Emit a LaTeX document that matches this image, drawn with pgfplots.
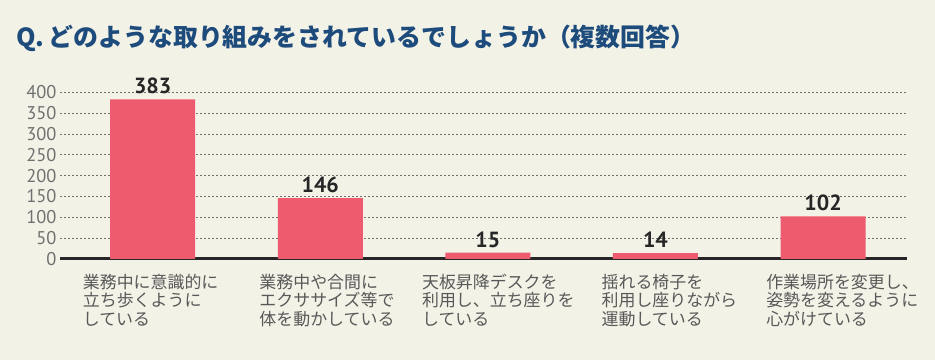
\documentclass[border=0pt]{standalone}
\usepackage{pgfplots}
\pgfplotsset{compat=1.18}
\usepackage{fontspec}
\setmainfont{PT Sans}
\newfontfamily\cjk{Noto Sans CJK JP}
\definecolor{bg}{HTML}{F3F2E7}
\definecolor{titleblue}{HTML}{1C4B7C}
\definecolor{barred}{HTML}{EF5B6E}
\definecolor{tickgray}{HTML}{707070}
\definecolor{labgray}{HTML}{585858}
\definecolor{valdark}{HTML}{262626}
\tikzset{lab/.style={anchor=north west, inner sep=0pt, align=left, text=labgray, font=\cjk\fontsize{17}{18.4}\selectfont, yshift=-15bp}}
\begin{document}
\begin{tikzpicture}
\path[use as bounding box] (0bp,0bp) rectangle (935bp,360bp);
\fill[bg] (0bp,0bp) rectangle (935bp,360bp);
\node[anchor=base west, inner sep=0, text=titleblue, font=\cjk\bfseries\fontsize{25}{28}\selectfont] at (16bp,313bp) {Q.\,どのような取り組みをされているでしょうか（複数回答）};
\begin{axis}[
  at={(60bp,101bp)}, anchor=south west,
  x=167.6bp, y=0.4167bp,
  xmin=-0.553, xmax=4.5, ymin=0, ymax=400,
  clip=false,
  axis x line*=bottom, axis y line*=left,
  y axis line style={draw=none},
  x axis line style={line width=3bp, color=valdark},
  xtick=\empty,
  ytick={0,50,...,400},
  major tick length=0pt,
  ymajorgrids,
  grid style={dash pattern=on 2bp off 2bp, color=tickgray, line width=0.8bp},
  /pgf/number format/assume math mode=true,
  yticklabel style={font=\fontsize{18.5}{20}\selectfont, text=tickgray},
  ybar, bar width=85bp,
  nodes near coords,
  nodes near coords style={font=\bfseries\fontsize{22}{24}\selectfont, text=valdark, anchor=south, inner sep=0pt, yshift=5bp},
]
\addplot[fill=barred, draw=none] coordinates {(0,383) (1,146) (2,15) (3,14) (4,102)};
\node[lab, xshift=-70bp] at (axis cs:0,0) {業務中に意識的に\\立ち歩くように\\している};
\node[lab, xshift=-61bp] at (axis cs:1,0) {業務中や合間に\\エクササイズ等で\\体を動かしている};
\node[lab, xshift=-66bp] at (axis cs:2,0) {天板昇降デスクを\\利用し、立ち座りを\\している};
\node[lab, xshift=-54bp] at (axis cs:3,0) {揺れる椅子を\\利用し座りながら\\運動している};
\node[lab, xshift=-57bp] at (axis cs:4,0) {作業場所を変更し、\\姿勢を変えるように\\心がけている};
\end{axis}
\end{tikzpicture}
\end{document}
